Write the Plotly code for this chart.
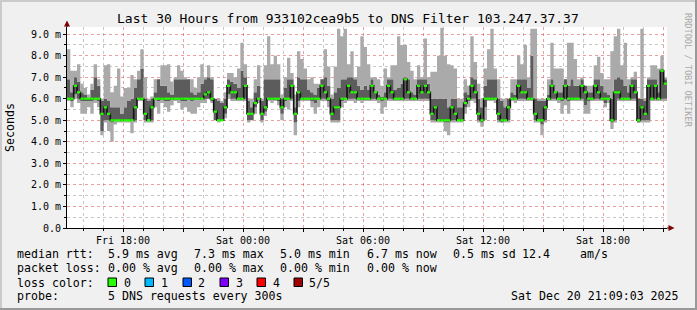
import pandas as pd
import plotly.graph_objects as go

W, H = 697, 310
PL, PR, PT, PB = 67, 667, 27, 228   # plot box in pixels

t0 = pd.Timestamp("2025-12-19 15:12:00")
STEP_MIN = 10
HOURS = 30

# median RTT (ms) per 10-minute step, and sorted pings 1,2,4,5 (smoke)
median = [
    6.0, 6.0, 6.6, 6.3, 6.0, 6.0, 6.0, 6.0, 6.0, 6.0, 5.3, 5.6, 5.3, 5.0, 5.0, 5.0, 5.0, 5.0, 5.0, 5.0,
    5.6, 6.0, 6.0, 5.3, 5.0, 5.6, 6.0, 6.0, 6.0, 6.0,
    6.0, 6.0, 6.0, 6.0, 6.0, 6.0, 6.0, 6.0, 6.0, 6.0, 6.0, 6.2, 6.3, 6.0, 5.4, 5.0, 5.0, 5.6, 6.6, 6.3,
    6.3, 6.0, 6.0, 6.6, 5.3, 5.3, 5.8, 6.0, 5.3, 5.6,
    6.0, 6.0, 6.0, 6.0, 5.6, 6.0, 6.0, 6.6, 5.3, 6.3, 6.0, 6.0, 6.0, 6.0, 6.0, 6.0, 6.6, 6.3, 6.0, 5.3,
    5.6, 5.6, 6.0, 6.0, 6.6, 6.3, 6.3, 6.0, 6.0, 6.0,
    6.0, 6.6, 6.3, 6.0, 6.0, 6.0, 6.6, 6.3, 6.0, 6.0, 6.0, 6.9, 6.3, 6.0, 6.0, 6.6, 6.3, 6.6, 6.3, 5.3,
    5.6, 5.0, 5.0, 5.0, 5.0, 5.6, 5.3, 5.0, 5.0, 5.8,
    6.0, 6.6, 6.3, 5.3, 5.0, 6.0, 6.0, 6.0, 6.0, 5.3, 5.0, 5.0, 5.6, 6.0, 6.0, 6.6, 6.3, 6.3, 6.0, 6.0,
    5.3, 5.0, 5.0, 5.6, 6.0, 6.6, 6.3, 6.0, 6.0, 6.6,
    6.0, 6.0, 6.0, 6.0, 6.6, 6.3, 6.0, 6.0, 6.6, 6.3, 6.0, 6.0, 6.0, 5.0, 6.3, 6.3, 6.0, 6.0, 6.0, 6.6,
    6.3, 5.0, 5.6, 5.3, 6.6, 6.0, 6.6, 6.0, 7.3, 6.7,
]
ping1 = [
    5.9, 5.6, 6.0, 5.8, 5.3, 5.3, 5.6, 5.3, 5.8, 5.6, 4.3, 4.9, 4.5, 4.0, 4.8, 4.9, 4.9, 4.9, 4.9, 4.4,
    4.9, 5.9, 5.9, 4.9, 4.9, 4.9, 5.6, 5.3, 5.8, 5.6,
    5.4, 5.7, 5.9, 5.8, 5.5, 5.6, 5.4, 5.3, 5.3, 5.6, 5.8, 5.8, 6.0, 5.8, 5.0, 4.9, 5.0, 5.1, 6.0, 5.9,
    5.9, 5.9, 5.9, 5.9, 4.9, 5.0, 5.3, 5.8, 4.9, 5.2,
    5.9, 5.8, 5.9, 5.7, 5.0, 5.6, 5.5, 5.9, 4.3, 5.6, 5.9, 5.9, 5.9, 5.6, 5.3, 5.6, 5.9, 5.9, 5.6, 4.9,
    4.9, 4.9, 5.6, 5.8, 5.9, 5.9, 5.8, 5.9, 5.8, 5.9,
    5.9, 5.9, 5.9, 5.8, 5.3, 5.6, 5.9, 5.9, 5.9, 5.9, 5.9, 5.9, 5.9, 5.9, 5.9, 5.9, 5.9, 5.9, 5.9, 4.9,
    4.9, 4.9, 4.9, 4.5, 4.3, 4.9, 4.9, 4.9, 4.9, 5.3,
    5.6, 5.9, 5.8, 4.9, 4.7, 5.0, 5.9, 5.9, 5.8, 4.9, 4.9, 4.9, 4.9, 5.9, 5.8, 5.9, 5.9, 5.9, 5.9, 5.9,
    4.9, 4.9, 4.3, 4.9, 5.9, 5.9, 5.9, 5.8, 5.3, 5.7,
    5.3, 5.9, 5.9, 5.9, 5.9, 5.3, 5.3, 5.9, 5.9, 5.9, 5.9, 5.6, 5.8, 4.6, 4.9, 5.9, 5.9, 5.9, 5.9, 5.9,
    5.9, 4.9, 4.9, 4.9, 4.9, 5.9, 5.9, 5.9, 5.9, 5.9,
]
ping2 = [
    6.0, 5.9, 6.2, 6.0, 5.9, 5.9, 5.9, 5.9, 6.0, 5.9, 4.5, 5.0, 5.0, 4.9, 5.0, 5.0, 5.0, 5.0, 5.0, 5.0,
    5.0, 6.0, 6.0, 5.0, 5.0, 5.0, 6.0, 5.9, 6.0, 5.9,
    5.9, 6.0, 6.0, 6.0, 5.9, 5.9, 6.0, 5.9, 6.0, 6.0, 6.0, 6.0, 6.0, 5.9, 5.0, 5.0, 5.0, 5.3, 6.2, 6.0,
    6.0, 6.0, 6.0, 6.0, 5.0, 5.0, 5.6, 6.0, 5.0, 5.4,
    6.0, 6.0, 6.0, 5.9, 5.3, 5.9, 6.0, 6.0, 4.9, 5.9, 6.0, 6.0, 6.0, 5.9, 5.8, 6.0, 6.0, 6.0, 5.9, 5.0,
    5.0, 5.0, 5.9, 6.0, 6.0, 6.0, 6.0, 6.0, 6.0, 6.0,
    6.0, 6.0, 6.0, 6.0, 5.9, 6.0, 6.0, 6.0, 6.0, 6.0, 6.0, 6.0, 6.0, 6.0, 6.0, 6.0, 6.0, 6.0, 6.0, 5.0,
    5.0, 5.0, 5.0, 4.9, 4.9, 5.0, 5.0, 5.0, 5.0, 5.6,
    5.9, 6.0, 6.0, 5.0, 4.9, 5.6, 6.0, 6.0, 6.0, 5.0, 4.9, 5.0, 5.0, 6.0, 6.0, 6.0, 6.0, 6.0, 6.0, 6.0,
    5.0, 5.0, 4.8, 5.0, 6.0, 6.0, 6.0, 6.0, 5.9, 6.0,
    5.9, 6.0, 6.0, 6.0, 6.0, 5.7, 5.9, 6.0, 6.0, 6.0, 6.0, 5.8, 6.0, 4.9, 5.0, 6.0, 6.0, 6.0, 6.0, 6.0,
    6.0, 4.9, 5.0, 5.0, 5.0, 6.0, 6.0, 6.0, 6.0, 6.0,
]
ping4 = [
    6.9, 6.3, 7.0, 6.8, 6.3, 6.2, 6.0, 6.4, 7.0, 6.6, 5.9, 6.0, 5.9, 5.6, 5.6, 5.6, 5.3, 5.6, 5.9, 6.0,
    6.5, 6.9, 7.4, 6.0, 5.9, 6.0, 6.3, 6.9, 6.6, 6.6,
    6.3, 6.2, 6.9, 6.9, 6.9, 6.9, 6.9, 6.3, 6.2, 6.3, 6.7, 6.9, 7.0, 6.9, 6.0, 5.9, 5.8, 6.0, 6.9, 6.8,
    6.7, 6.5, 7.3, 7.0, 5.9, 5.6, 6.3, 6.6, 5.9, 6.9,
    6.9, 6.9, 6.9, 6.9, 6.0, 6.5, 6.9, 6.9, 5.6, 7.0, 6.9, 6.9, 6.4, 6.3, 6.2, 6.5, 6.9, 7.0, 6.6, 6.0,
    6.3, 6.5, 6.9, 6.9, 7.0, 7.0, 6.9, 6.6, 6.4, 6.6,
    6.4, 6.9, 6.3, 6.2, 6.1, 6.3, 6.9, 6.9, 6.4, 6.5, 6.7, 7.0, 6.9, 6.3, 6.2, 6.9, 6.9, 6.9, 6.7, 6.0,
    6.0, 6.0, 6.0, 6.0, 5.6, 6.0, 6.0, 5.6, 5.6, 6.3,
    6.2, 7.0, 6.9, 6.0, 5.6, 6.6, 6.9, 6.9, 6.9, 6.0, 5.9, 5.6, 6.0, 6.3, 6.2, 6.9, 6.9, 6.9, 6.5, 8.0,
    6.0, 5.9, 5.9, 5.9, 6.2, 6.9, 6.3, 6.3, 6.3, 6.9,
    6.6, 6.9, 6.6, 6.6, 6.9, 6.6, 6.3, 6.3, 6.9, 6.9, 6.6, 6.3, 6.2, 6.0, 6.9, 7.0, 6.9, 6.6, 6.3, 6.9,
    6.9, 6.0, 6.0, 5.9, 6.9, 6.9, 6.9, 6.3, 7.4, 6.9,
]
ping5 = [
    8.3, 7.3, 7.3, 7.6, 6.7, 6.5, 6.2, 6.7, 7.6, 6.9, 6.0, 7.55, 7.6, 6.3, 6.6, 7.4, 6.1, 6.5, 6.5, 7.1,
    6.9, 7.3, 8.3, 7.0, 6.0, 6.1, 6.9, 6.9, 7.55, 7.55,
    7.6, 6.8, 7.0, 7.55, 7.3, 7.0, 6.9, 6.9, 6.5, 7.0, 7.6, 7.0, 7.55, 7.0, 6.0, 6.0, 5.9, 6.3, 7.2, 7.2,
    7.0, 7.4, 8.6, 7.6, 6.0, 6.0, 6.9, 7.55, 6.0, 7.55,
    8.9, 7.6, 8.0, 7.6, 6.2, 7.0, 7.9, 7.2, 6.2, 8.2, 7.85, 7.4, 6.9, 7.0, 6.7, 6.7, 6.9, 8.3, 7.5, 6.2,
    7.5, 9.25, 8.9, 9.25, 7.6, 8.2, 7.0, 7.5, 8.9, 8.4,
    7.6, 7.0, 7.0, 6.9, 6.6, 7.4, 7.0, 7.55, 7.55, 8.9, 8.5, 8.5, 7.7, 7.3, 6.9, 7.55, 7.0, 8.8, 7.0, 7.25,
    7.25, 8.0, 9.3, 8.0, 7.6, 7.55, 7.4, 6.0, 6.0, 6.9,
    6.6, 8.9, 7.7, 6.7, 6.0, 7.4, 8.3, 9.25, 7.4, 6.9, 6.0, 6.0, 6.0, 6.9, 6.9, 8.0, 7.6, 8.5, 7.0, 9.25,
    9.25, 6.0, 6.0, 6.0, 6.9, 8.6, 7.4, 7.4, 7.4, 6.9,
    8.6, 8.6, 7.85, 6.9, 7.0, 6.6, 6.6, 6.6, 7.55, 7.95, 7.2, 6.9, 6.9, 8.2, 8.9, 9.25, 7.55, 8.6, 6.9, 7.0,
    7.25, 6.0, 9.25, 6.0, 7.0, 7.55, 7.55, 7.4, 8.0, 7.0,
]

y_ticks = [0, 1, 2, 3, 4, 5, 6, 7, 8, 9]
y_max = 9.33

legend_rows = [
    (254, [(16, "median rtt:"), (107, "5.9 ms avg"), (193, "7.3 ms max"), (279, "5.0 ms min"),
           (366, "6.7 ms now"), (452, "0.5 ms sd"), (521, "12.4"), (579, "am/s")]),
    (268, [(16, "packet loss:"), (107, "0.00 % avg"), (193, "0.00 % max"), (279, "0.00 % min"),
           (366, "0.00 % now")]),
    (282.5, [(16, "loss color:")]),
    (296, [(16, "probe:"), (107, "5 DNS requests every 300s")]),
]
loss_labels = ["0", "1", "2", "3", "4", "5/5"]
loss_colors = ["#26ff00", "#00b8ff", "#0059ff", "#7e00ff", "#ff0000", "#a10000"]
loss_box_x = [108, 145, 183, 220, 257, 294]
loss_text_x = [123, 160, 197, 235, 272, 308]

LIGHT = "#aaaaaa"
DARK = "#5c5c5c"
MONO = "DejaVu Sans Mono"

n = len(median)
times = [t0 + pd.Timedelta(minutes=STEP_MIN * i) for i in range(n + 1)]


def ext(a):
    return list(a) + [a[-1]]


def px(x):
    return (x - PL) / (PR - PL)


def py(y):
    return (PB - y) / (PB - PT)


fig = go.Figure()
common = dict(x=times, mode="lines", line=dict(width=0, shape="hv"),
              hoverinfo="skip", showlegend=False)
fig.add_trace(go.Scatter(y=ext(ping1), **common))
fig.add_trace(go.Scatter(y=ext(ping2), fill="tonexty", fillcolor=LIGHT, **common))
fig.add_trace(go.Scatter(y=ext(ping4), fill="tonexty", fillcolor=DARK, **common))
fig.add_trace(go.Scatter(y=ext(ping5), fill="tonexty", fillcolor=LIGHT, **common))
fig.add_trace(go.Scatter(x=times, y=ext(median), mode="lines",
                         line=dict(color="#111111", width=1.6, shape="hv"),
                         hoverinfo="skip", showlegend=False))
gx, gy = [], []
for i, m in enumerate(median):
    gx += [times[i], times[i + 1], None]
    gy += [m, m, None]
fig.add_trace(go.Scatter(x=gx, y=gy, mode="lines", line=dict(color="#26ff00", width=2.2),
                         hoverinfo="skip", showlegend=False))

MGRID = "rgba(222,80,80,0.55)"
GRID = "rgba(143,143,143,0.5)"

fig.update_layout(
    width=W, height=H, autosize=False,
    margin=dict(l=PL, r=W - PR, t=PT, b=H - PB, pad=0),
    paper_bgcolor="#f0f0f0", plot_bgcolor="#ffffff",
    font=dict(family=MONO, color="#000000", size=10),
    showlegend=False,
    xaxis=dict(
        type="date",
        range=[times[0], t0 + pd.Timedelta(hours=HOURS)],
        tick0="2025-12-19 18:00:00", dtick=3 * 3600 * 1000,
        tickformat="%a %H:%M", ticklabelstep=2,
        showgrid=True, gridcolor=MGRID, griddash="dot", gridwidth=1,
        ticks="outside", ticklen=3, tickcolor="#000000",
        minor=dict(dtick=3600 * 1000, tick0="2025-12-19 18:00:00", showgrid=True,
                   gridcolor=GRID, griddash="dot", ticks="outside", ticklen=2,
                   tickcolor="#000000"),
        showline=True, linecolor="#000000", linewidth=1, zeroline=False,
        tickfont=dict(family=MONO, size=10),
        fixedrange=True,
    ),
    yaxis=dict(
        range=[0, y_max], tickmode="linear", tick0=0, dtick=1,
        tickformat=".1f", ticksuffix=" m", labelalias={"0.0 m": "0.0"},
        showgrid=True, gridcolor=MGRID, griddash="dot", gridwidth=1,
        ticks="outside", ticklen=3, tickcolor="#000000",
        minor=dict(dtick=0.5, tick0=0, showgrid=True, gridcolor=GRID, griddash="dot",
                   ticks="outside", ticklen=2, tickcolor="#000000"),
        showline=True, linecolor="#000000", linewidth=1, zeroline=False,
        tickfont=dict(family=MONO, size=10),
        fixedrange=True,
    ),
)

shapes = []
# frame (RRD shade A / shade B)
shapes.append(dict(type="rect", xref="paper", yref="paper", x0=px(0), x1=px(W), y0=py(0), y1=py(2),
                   fillcolor="#cbcbcb", line=dict(width=0), layer="above"))
shapes.append(dict(type="rect", xref="paper", yref="paper", x0=px(0), x1=px(2), y0=py(0), y1=py(H),
                   fillcolor="#cbcbcb", line=dict(width=0), layer="above"))
shapes.append(dict(type="rect", xref="paper", yref="paper", x0=px(0), x1=px(W), y0=py(H - 2), y1=py(H),
                   fillcolor="#999999", line=dict(width=0), layer="above"))
shapes.append(dict(type="rect", xref="paper", yref="paper", x0=px(W - 2), x1=px(W), y0=py(0), y1=py(H),
                   fillcolor="#999999", line=dict(width=0), layer="above"))
# axis extensions and arrows
shapes.append(dict(type="line", xref="paper", yref="paper", x0=px(PL), x1=px(PL), y0=py(PT), y1=py(22),
                   line=dict(color="#000000", width=1)))
shapes.append(dict(type="line", xref="paper", yref="paper", x0=px(PR), x1=px(670), y0=py(PB), y1=py(PB),
                   line=dict(color="#000000", width=1)))
shapes.append(dict(type="path", xref="paper", yref="paper",
                   path=f"M {px(64)} {py(26.5)} L {px(70)} {py(26.5)} L {px(67)} {py(20.5)} Z",
                   fillcolor="#7f0000", line=dict(width=0)))
shapes.append(dict(type="path", xref="paper", yref="paper",
                   path=f"M {px(668.5)} {py(225)} L {px(668.5)} {py(231)} L {px(674.5)} {py(228)} Z",
                   fillcolor="#7f0000", line=dict(width=0)))
# loss color boxes
for bx, col in zip(loss_box_x, loss_colors):
    shapes.append(dict(type="rect", xref="paper", yref="paper", x0=px(bx), x1=px(bx + 8.5),
                       y0=py(278), y1=py(286.5), fillcolor=col,
                       line=dict(color="#000000", width=1)))
fig.update_layout(shapes=shapes)

anns = []


def ann(x, y, text, size=11.6, xanchor="left", angle=0, color="#000000"):
    anns.append(dict(x=px(x), y=py(y), xref="paper", yref="paper", text=text, showarrow=False,
                     xanchor=xanchor, yanchor="middle", textangle=angle,
                     font=dict(family=MONO, size=size, color=color), borderpad=0))


ann(347.5, 19, "Last 30 Hours from 933102cea9b5 to DNS Filter 103.247.37.37", size=13, xanchor="center")
ann(10, 128, "Seconds", size=11.6, xanchor="center", angle=-90)
ann(688, 70, "RRDTOOL / TOBI OETIKER", size=8.6, xanchor="center", angle=90, color="#aaaaaa")
for yy, items in legend_rows:
    for xx, txt in items:
        ann(xx, yy, txt)
for tx, lab in zip(loss_text_x, loss_labels):
    ann(tx, 282.5, lab)
ann(680, 296, "Sat Dec 20 21:09:03 2025", xanchor="right")
fig.update_layout(annotations=anns)

fig.write_html("out.html", config={"displayModeBar": False})
